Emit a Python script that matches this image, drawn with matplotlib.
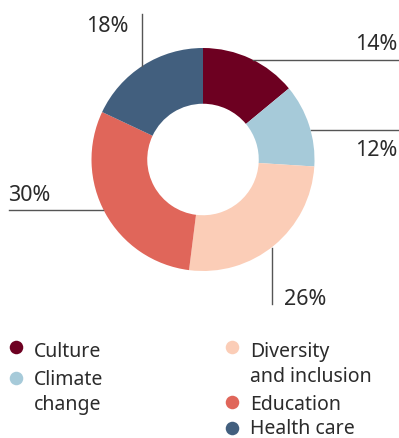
import matplotlib.pyplot as plt

plt.rcParams['font.family'] = ['Noto Sans', 'DejaVu Sans']

# share of funding by theme, clockwise from 12 o'clock
categories = ['Culture', 'Climate\nchange', 'Diversity\nand inclusion', 'Education', 'Health care']
shares = [14, 12, 26, 30, 18]
colors = ['#6d0021', '#a6cad9', '#fbcdb7', '#e0665a', '#425f7e']

W, H = 399, 439
fig = plt.figure(figsize=(W / 100, H / 100), dpi=100)
ax = fig.add_axes([0, 0, 1, 1])

# donut (pixel-like coords, y measured up from the bottom)
cx, cy, r = 203, H - 160.5, 111.5
ax.pie(shares, colors=colors, startangle=90, counterclock=False,
       center=(cx, cy), radius=r, frame=True,
       wedgeprops=dict(width=r * 0.5, linewidth=0))
ax.set_xlim(0, W)
ax.set_ylim(0, H)
ax.set_aspect('equal')
ax.axis('off')

txt = '#2b2b2b'
line = '#555555'
fs = 15.5

def y(p):
    return H - p

# leader lines and value labels
labels = [f'{s}%' for s in shares]
# Culture
ax.plot([253, 399], [y(61), y(61)], color=line, lw=1)
ax.text(397, y(50), labels[0], ha='right', va='baseline', fontsize=fs, color=txt)
# Climate change
ax.plot([311, 399], [y(131), y(131)], color=line, lw=1)
ax.text(397, y(156), labels[1], ha='right', va='baseline', fontsize=fs, color=txt)
# Diversity
ax.plot([272, 272], [y(249), y(305)], color=line, lw=1)
ax.text(284, y(305), labels[2], ha='left', va='baseline', fontsize=fs, color=txt)
# Education
ax.plot([9, 103], [y(211), y(211)], color=line, lw=1)
ax.text(8, y(201), labels[3], ha='left', va='baseline', fontsize=fs, color=txt)
# Health care
ax.plot([142, 142], [y(15), y(67)], color=line, lw=1)
ax.text(128, y(32), labels[4], ha='right', va='baseline', fontsize=fs, color=txt)

# legend in two columns: marker centre and first-line baseline
lfs = 14
markers = [(16, 348), (16, 379), (232, 348), (232, 403), (232, 429)]
bases = [357, 385, 357, 410, 434]
for (mx, my), by, name, c in zip(markers, bases, categories, colors):
    ax.scatter([mx], [y(my)], s=95, color=c, linewidths=0)
    first, *rest = name.split('\n')
    ax.text(mx + 18, y(by), first, ha='left', va='baseline', fontsize=lfs, color=txt)
    for i, part in enumerate(rest, 1):
        ax.text(mx + 18, y(by + 25 * i), part, ha='left', va='baseline',
                fontsize=lfs, color=txt)

fig.savefig('out.png', dpi=100)
